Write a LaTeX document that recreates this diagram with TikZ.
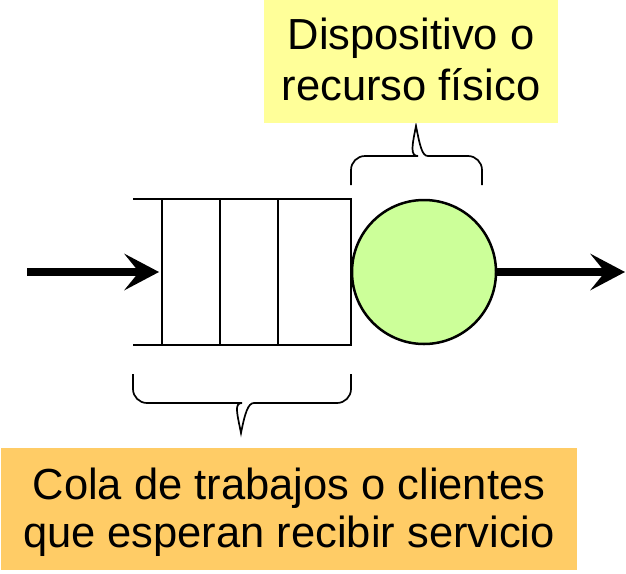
\documentclass[tikz,border=0pt]{standalone}
\usepackage{fontspec}
\setmainfont{Liberation Sans}
\usepackage{tikz}
\usetikzlibrary{arrows.meta,shapes,positioning}
\usepackage{xcolor}
\definecolor{qgreen}{RGB}{204,255,153}
\definecolor{qyellow}{RGB}{255,255,153}
\definecolor{qorange}{RGB}{255,204,102}
\tikzstyle{flow} = [line width=8pt,-{Stealth[length=35pt,width=37pt,inset=15pt,line width=0pt]}]
\tikzstyle{queueline} = [line width=1.6pt]
\tikzstyle{brace} = [line width=1.7pt]
\tikzstyle{server} = [circle, draw, line width=2.5pt, fill=qgreen, minimum size=144pt, inner sep=0pt]
\tikzstyle{tag} = [rectangle, align=center, inner sep=0pt]

\begin{document}
\begin{tikzpicture}[x=1pt,y=-1pt]
\useasboundingbox (0,0) rectangle (626,573);
% Queue
\draw[queueline] (133,199) -- (351,199) -- (351,345) -- (133,345);
\foreach \x in {162,220,278}
  \draw[queueline, line width=1.3pt] (\x,199) -- (\x,345);
\coordinate (src) at (27,272);
\coordinate (qin) at (159,272);
\coordinate (sink) at (625,272);

% Server
\node (disp) [server] at (424,272) {};

% Arrows
\draw[flow] (src) -- (qin);
\draw[flow] (disp) -- (sink);

% Braces
\draw[brace] (351,185) [rounded corners=14pt] |- (404,156) [sharp corners]
  .. controls (410,156) and (412,146) .. (416,126)
  .. controls (420,146) and (422,156) .. (428,156) [rounded corners=14pt] -| (482,185);
\draw[brace] (133,374) [rounded corners=14pt] |- (228,403) [sharp corners]
  .. controls (234,403) and (237,413) .. (241,433)
  .. controls (245,413) and (248,403) .. (254,403) [rounded corners=14pt] -| (351,374);

% Labels
\node (recurso) [tag, fill=qyellow, minimum width=294pt, minimum height=123pt, text depth=4.5pt,
  font=\fontsize{43.5pt}{51pt}\selectfont] at (411,61.5) {Dispositivo o\\recurso físico};
\node (cola) [tag, fill=qorange, minimum width=576pt, minimum height=122pt, text depth=2.3pt,
  font=\fontsize{43.5pt}{47.5pt}\selectfont] at (289,509) {Cola de trabajos o clientes\\que esperan recibir servicio};
\end{tikzpicture}
\end{document}
